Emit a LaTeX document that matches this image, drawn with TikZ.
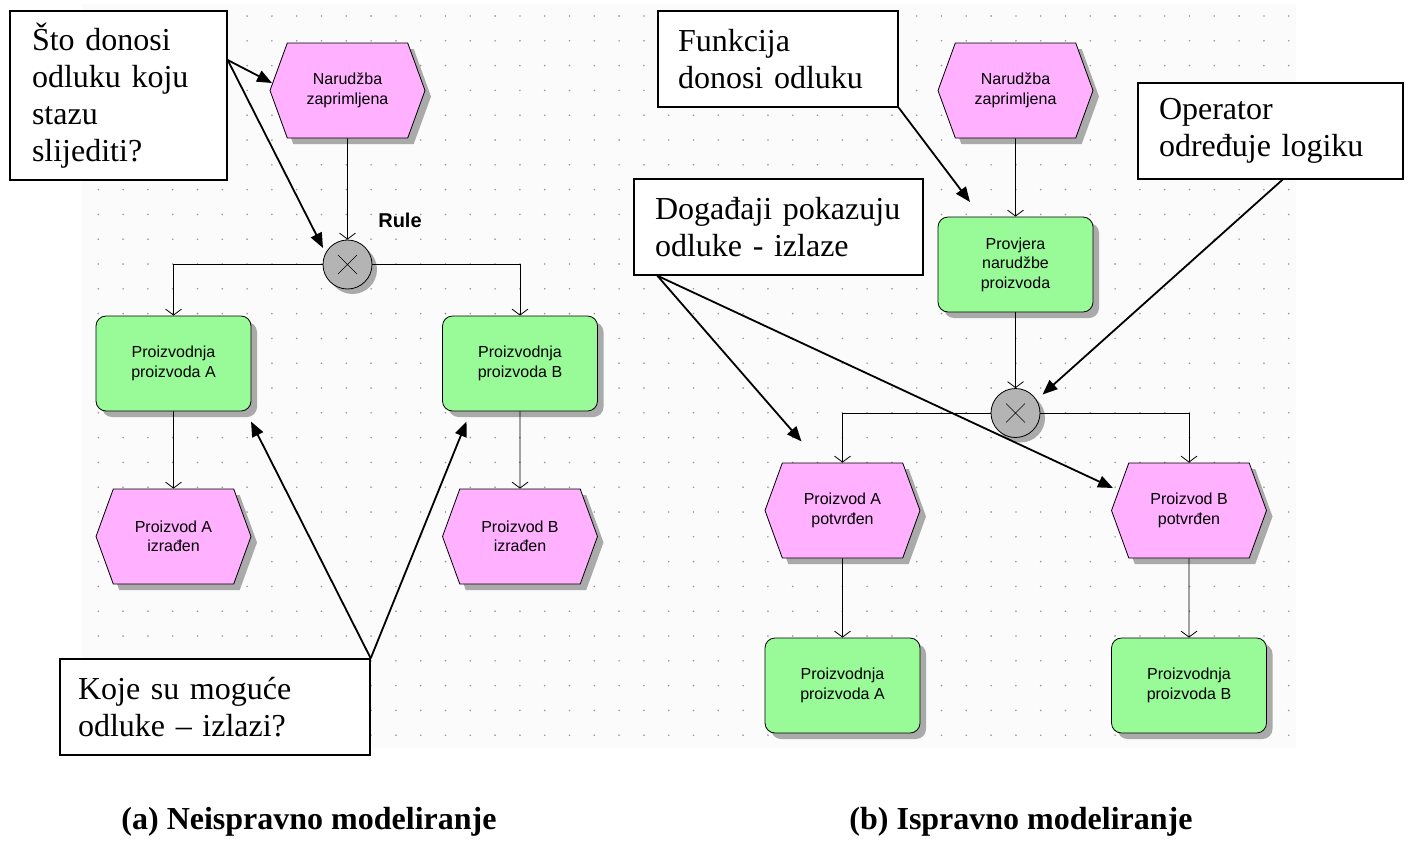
\documentclass[tikz,border=0pt]{standalone}
\usepackage{fontspec}
\setmainfont{Liberation Serif}
\setsansfont{Liberation Sans}
\usepackage{tikz}
\usetikzlibrary{shapes.symbols,shadows,arrows.meta}

\definecolor{evpink}{RGB}{255,176,255}
\definecolor{fngreen}{RGB}{152,251,152}
\definecolor{xorgray}{RGB}{180,180,180}
\definecolor{shadegray}{RGB}{170,170,170}
\definecolor{griddot}{RGB}{150,150,150}
\definecolor{canvasbg}{RGB}{251,251,251}

\begin{document}
\begin{tikzpicture}[x=1pt, y=-1pt, node distance=174pt]
                \tikzstyle{event} = [signal, signal to=east and west, signal pointer angle=140, minimum width=155pt, minimum height=95pt, inner sep=0pt, draw=black, line width=0.8pt, fill=evpink, drop shadow={shadow xshift=6pt, shadow yshift=-6pt, fill=shadegray, opacity=1}, align=center, font=\sffamily\fontsize{16}{19.5}\selectfont]
                \tikzstyle{function} = [rectangle, rounded corners=10pt, minimum width=155pt, minimum height=95pt, inner sep=0pt, draw=black, line width=0.8pt, fill=fngreen, drop shadow={shadow xshift=6pt, shadow yshift=-6pt, fill=shadegray, opacity=1}, align=center, font=\sffamily\fontsize{16}{19.5}\selectfont]
                \tikzstyle{xor} = [circle, minimum size=49pt, inner sep=0pt, draw=black, line width=0.8pt, fill=xorgray, drop shadow={shadow xshift=5pt, shadow yshift=-5pt, fill=shadegray, opacity=1}, path picture={\draw[line width=0.6pt] ([shift={(-9.5pt,-9.5pt)}]path picture bounding box.center) -- ++(19pt,19pt) ([shift={(-9.5pt,9.5pt)}]path picture bounding box.center) -- ++(19pt,-19pt);}]
                \tikzstyle{note} = [rectangle, draw=black, line width=1.4pt, fill=white, inner sep=0pt, align=left, font=\fontsize{32}{37}\selectfont]
                \tikzstyle{flow} = [line width=0.8pt, -{Straight Barb[length=6pt,width=16pt,line width=0.8pt]}]
                \tikzstyle{pointer} = [line width=1.8pt, -{Triangle[length=15pt,width=12pt]}]
                \tikzstyle{caption} = [font=\bfseries\fontsize{32}{37}\selectfont]

                \useasboundingbox (0,0) rectangle (1411,863);
                \fill[canvasbg] (82,4) rectangle (1296,748);
                \foreach \i in {0,...,48}
                    \foreach \j in {0,...,29}
                        \fill[griddot] (98.3+24.8*\i, 16+24.8*\j) circle (0.9);

                \node (evOrderL) [event] at (347.5,90.5) {Narudžba\\zaprimljena};
                \node (xorL) [xor, below of=evOrderL] {};
                \node (ruleLbl) [font=\sffamily\bfseries\fontsize{20}{24}\selectfont] at (400,220) {Rule};
                \node (fnProdA) [function] at (173.5,363.5) {Proizvodnja\\proizvoda A};
                \node (fnProdB) [function] at (520,363.5) {Proizvodnja\\proizvoda B};
                \node (evDoneA) [event, below of=fnProdA, node distance=173pt] {Proizvod A\\izrađen};
                \node (evDoneB) [event, below of=fnProdB, node distance=173pt] {Proizvod B\\izrađen};

                \node (evOrderR) [event] at (1015.5,90.5) {Narudžba\\zaprimljena};
                \node (fnCheck) [function, below of=evOrderR] {Provjera\\narudžbe\\proizvoda};
                \node (xorR) [xor, below of=fnCheck, node distance=148.5pt] {};
                \node (evOkA) [event] at (842.5,510.5) {Proizvod A\\potvrđen};
                \node (evOkB) [event] at (1189,510.5) {Proizvod B\\potvrđen};
                \node (fnMakeA) [function, below of=evOkA, node distance=175pt] {Proizvodnja\\proizvoda A};
                \node (fnMakeB) [function, below of=evOkB, node distance=175pt] {Proizvodnja\\proizvoda B};

                \draw [flow] (evOrderL) -- (xorL);
                \draw [flow] (xorL.west) -| (fnProdA);
                \draw [flow] (xorL.east) -| (fnProdB);
                \draw [flow] (fnProdA) -- (evDoneA);
                \draw [flow] (fnProdB) -- (evDoneB);
                \draw [flow] (evOrderR) -- (fnCheck);
                \draw [flow] (fnCheck) -- (xorR);
                \draw [flow] (xorR.west) -| (evOkA);
                \draw [flow] (xorR.east) -| (evOkB);
                \draw [flow] (evOkA) -- (fnMakeA);
                \draw [flow] (evOkB) -- (fnMakeB);

                \node (noteWho) [note, minimum width=217pt, minimum height=169pt, text width=173pt] at (118.5,95.5) {Što donosi\\odluku koju\\stazu\\slijediti?};
                \node (noteWhich) [note, minimum width=310pt, minimum height=96pt, text width=274pt] at (215,707) {Koje su moguće\\odluke -- izlazi?};
                \node (noteFunc) [note, minimum width=240pt, minimum height=96pt, text width=200pt] at (778,59) {Funkcija\\donosi odluku};
                \node (noteEvents) [note, minimum width=289pt, minimum height=96pt, text width=247pt] at (778.5,227) {Događaji pokazuju\\odluke - izlaze};
                \node (noteOp) [note, minimum width=265pt, minimum height=96pt, text width=223pt] at (1270.5,131) {Operator\\određuje logiku};

                \coordinate (whoTipEv) at (272,83);
                \coordinate (whoTipXor) at (323,248);
                \coordinate (whichTipA) at (251,421.5);
                \coordinate (whichTipB) at (466.5,421.5);
                \coordinate (funcTip) at (970,202);
                \coordinate (opTip) at (1042.5,394.5);
                \coordinate (evTipA) at (801.5,441.5);
                \coordinate (evTipB) at (1113,488);

                \draw [pointer] (noteWho.18) -- (whoTipEv);
                \draw [pointer] (noteWho.18) -- (whoTipXor);
                \draw [pointer] (noteWhich.north east) -- (whichTipA);
                \draw [pointer] (noteWhich.north east) -- (whichTipB);
                \draw [pointer] (noteFunc.south east) -- (funcTip);
                \draw [pointer] ([xshift=12pt]noteOp.south) -- (opTip);
                \draw [pointer] ([xshift=24pt]noteEvents.south west) -- (evTipA);
                \draw [pointer] ([xshift=24pt]noteEvents.south west) -- (evTipB);

                \node (capA) [caption] at (309,822) {(a) Neispravno modeliranje};
                \node (capB) [caption] at (1021,822) {(b) Ispravno modeliranje};
\end{tikzpicture}
\end{document}
